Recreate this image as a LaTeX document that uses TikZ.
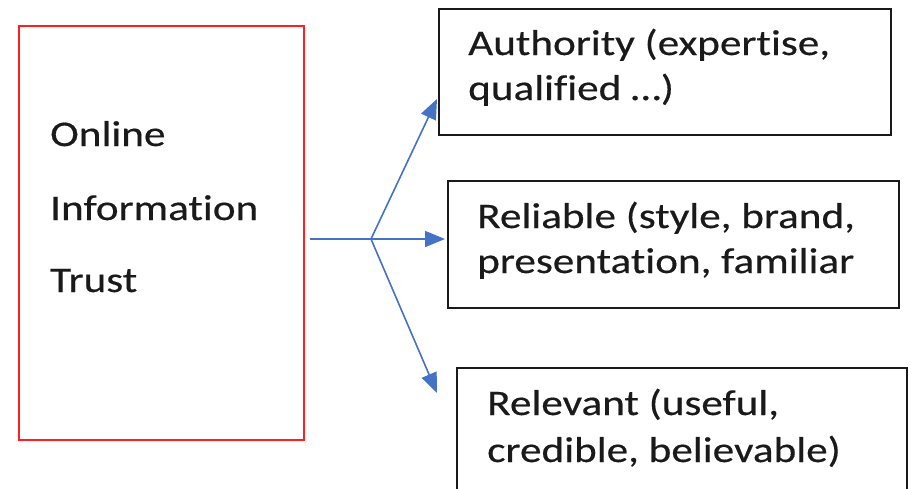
\documentclass[tikz,border=0pt]{standalone}
\usepackage{fontspec}
\setmainfont{Carlito}[FakeStretch=1.2, FakeBold=0.4, Ligatures=NoCommon]
\usetikzlibrary{arrows.meta}
\definecolor{arrowblue}{HTML}{4472C4}
\definecolor{boxred}{HTML}{FF1F1F}
\definecolor{inkgray}{HTML}{1A1A1A}
\tikzset{
  redbox/.style={draw=boxred, line width=1.6pt},
  blackbox/.style={draw=inkgray, line width=1.6pt},
  label/.style={anchor=base west, inner sep=0pt, text=inkgray,
    font=\fontsize{36}{36}\selectfont},
  link/.style={draw=arrowblue, line width=1.6pt},
  linkarrow/.style={link, -{Triangle[length=20pt,width=16pt]}}
}
\begin{document}
\begin{tikzpicture}[x=1pt, y=-1pt]
  \useasboundingbox (0,0) rectangle (912,488);
  \clip (0,0) rectangle (912,488);

  % source box
  \draw[redbox] (19,26) rectangle (304,440);
  \node[label] (t1) at (50,146) {Online};
  \node[label] (t2) at (50,220) {Information};
  \node[label] (t3) at (50,292) {Trust};

  % target boxes
  \draw[blackbox] (439,9) rectangle (891,135);
  \node[label] (a1) at (468,55) {Authority (expertise,};
  \node[label] (a2) at (468,100) {qualified \ldots)};

  \draw[blackbox] (448,181) rectangle (899,308);
  \node[label] (b1) at (477,228) {Reliable (style, brand,};
  \node[label] (b2) at (477,273) {presentation, familiar};

  \draw[blackbox] (457,368) rectangle (907,520);
  \node[label] (c1) at (487,415) {Relevant (useful,};
  \node[label] (c2) at (487,462) {credible, believable)};

  % connectors
  \coordinate (start) at (310,239);
  \coordinate (split) at (371,239);
  \coordinate (tipA) at (437,99);
  \coordinate (tipB) at (445,239);
  \coordinate (tipC) at (437,393);
  \draw[link] (start) -- (split);
  \draw[linkarrow] (split) -- (tipA);
  \draw[linkarrow] (split) -- (tipB);
  \draw[linkarrow] (split) -- (tipC);
\end{tikzpicture}
\end{document}
